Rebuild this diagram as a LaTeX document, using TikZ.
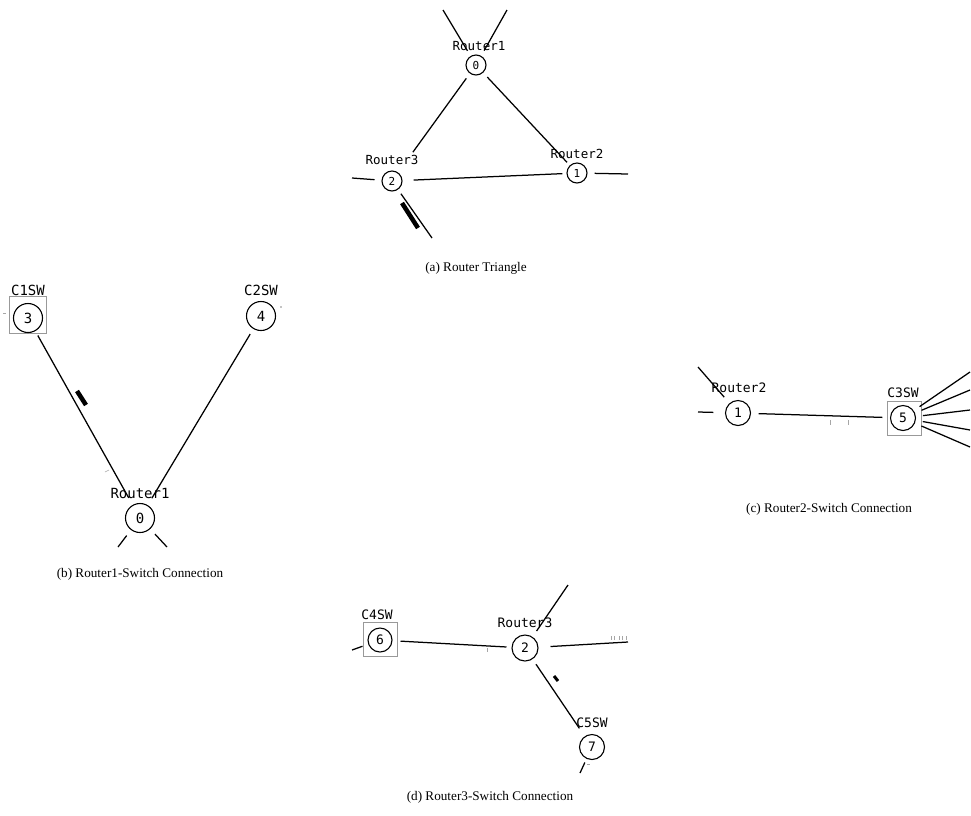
\documentclass[tikz,border=0pt]{standalone}
\usepackage{fontspec}
\setmainfont{Liberation Serif}
\newfontfamily\monof{DejaVu Sans Mono}
\begin{document}
\begin{tikzpicture}[x=1pt,y=-1pt,
  nd/.style={circle,draw,line width=1.1pt,inner sep=0pt,minimum size=#1,font=\monof\fontsize{13}{13}\selectfont},
  nd/.default=25pt,
  lbl/.style={inner sep=0pt,font=\monof\fontsize{13}{13}\selectfont},
  captext/.style={inner sep=0pt,font=\fontsize{13.2}{15}\selectfont},
  swbox/.style={draw=gray!80,line width=0.8pt,minimum width=#1,minimum height=#1,inner sep=0pt},
  ln/.style={line width=1.25pt},
  bar/.style={line width=4.5pt},
  tick/.style={line width=0.6pt,gray!70}]
\useasboundingbox (0,0) rectangle (971,815);

% ---------------- (a) Router Triangle ----------------
\node[nd=20pt,font=\monof\fontsize{11}{11}\selectfont] (a0) at (476,65) {0};
\node[nd=20pt,font=\monof\fontsize{11}{11}\selectfont] (a2) at (392,181) {2};
\node[nd=20pt,font=\monof\fontsize{11}{11}\selectfont] (a1) at (577,173) {1};
\node[lbl,font=\monof\fontsize{12.5}{12.5}\selectfont] (la0) at (479,46) {Router1};
\node[lbl,font=\monof\fontsize{12.5}{12.5}\selectfont] (la2) at (392,160) {Router3};
\node[lbl,font=\monof\fontsize{12.5}{12.5}\selectfont] (la1) at (577,154) {Router2};
\coordinate (at1) at (443,10);
\coordinate (at2) at (507,10);
\coordinate (al) at (352,178);
\coordinate (ar) at (628,174);
\coordinate (ab) at (432,238);
\draw[ln,shorten >=6pt] (at1) -- (a0);
\draw[ln,shorten >=6pt] (at2) -- (a0);
\draw[ln,shorten <=6pt,shorten >=25pt] (a0) -- (a2);
\draw[ln,shorten <=6pt,shorten >=4pt] (a0) -- (a1);
\draw[ln,shorten <=11pt,shorten >=4pt] (a2) -- (a1);
\draw[ln,shorten >=7pt] (al) -- (a2);
\draw[ln,shorten <=7pt] (a1) -- (ar);
\draw[ln,shorten <=5pt] (a2) -- (ab);
\draw[bar] (402,203) -- (418,228);
\node[captext] (capa) at (476,268) {(a) Router Triangle};

% ---------------- (b) Router1-Switch Connection ----------------
\node[swbox=37pt] (b3box) at (27.5,315) {};
\node[nd=29pt,font=\monof\fontsize{14}{14}\selectfont] (b3) at (28,318) {3};
\node[nd=29pt,font=\monof\fontsize{14}{14}\selectfont] (b4) at (261,316) {4};
\node[nd=29pt,font=\monof\fontsize{14}{14}\selectfont] (b0) at (140,518) {0};
\node[lbl,font=\monof\fontsize{14}{14}\selectfont] (lb3) at (28,290) {C1SW};
\node[lbl,font=\monof\fontsize{14}{14}\selectfont] (lb4) at (261,290) {C2SW};
\node[lbl,font=\monof\fontsize{14}{14}\selectfont] (lb0) at (140,493) {Router1};
\coordinate (bb1) at (118,547);
\coordinate (bb2) at (167,547);
\draw[ln,shorten <=5pt,shorten >=8pt] (b3) -- (b0);
\draw[ln,shorten <=6pt,shorten >=8pt] (b4) -- (b0);
\draw[ln,shorten <=7pt] (b0) -- (bb1);
\draw[ln,shorten <=7pt] (b0) -- (bb2);
\draw[bar] (77,391) -- (86,405);
\draw[tick] (105,472) -- (109,470);
\draw[tick] (3,313) -- (6,313);
\fill (281,307) circle (0.7pt);
\node[captext] (capb) at (140,574) {(b) Router1-Switch Connection};

% ---------------- (c) Router2-Switch Connection ----------------
\node[nd=25pt] (c1) at (738,413) {1};
\node[swbox=34pt] (c5box) at (904,418) {};
\node[nd=25pt] (c5) at (903,418) {5};
\node[lbl] (lc1) at (739,388) {Router2};
\node[lbl] (lc5) at (903,393) {C3SW};
\coordinate (ct) at (698,367);
\coordinate (cl) at (698,412);
\coordinate (cf1) at (970,372);
\coordinate (cf2) at (970,390);
\coordinate (cf3) at (970,410);
\coordinate (cf4) at (970,430);
\coordinate (cf5) at (970,447);
\draw[ln,shorten >=8pt] (ct) -- (c1);
\draw[ln,shorten >=11.5pt] (cl) -- (c1);
\draw[ln,shorten <=7.5pt,shorten >=7.5pt] (c1) -- (c5);
\foreach \k in {1,...,5} \draw[ln,shorten <=7pt] (c5) -- (cf\k);
\draw[tick] (830,420) -- (830,425);
\draw[tick] (848,420) -- (848,425);
\node[captext] (capc) at (829,509) {(c) Router2-Switch Connection};

% ---------------- (d) Router3-Switch Connection ----------------
\node[swbox=34pt] (d6box) at (380,639.5) {};
\node[nd=24pt] (d6) at (380,640) {6};
\node[nd=26pt] (d2) at (525,648) {2};
\node[nd=25pt] (d7) at (592,747) {7};
\node[lbl] (ld6) at (377,615) {C4SW};
\node[lbl] (ld2) at (525,623) {Router3};
\node[lbl] (ld7) at (592,723) {C5SW};
\coordinate (dl) at (352,650);
\coordinate (dt) at (568,585);
\coordinate (dr) at (628,642);
\coordinate (db) at (580,773);
\draw[ln,shorten >=6pt] (dl) -- (d6);
\draw[ln,shorten <=8pt,shorten >=5pt] (d6) -- (d2);
\draw[ln,shorten >=7pt] (dt) -- (d2);
\draw[ln,shorten <=12pt] (d2) -- (dr);
\draw[ln,shorten <=6pt,shorten >=9.5pt] (d2) -- (d7);
\draw[ln,shorten <=4pt] (d7) -- (db);
\draw[line width=3pt] (554,676) -- (558,681);
\draw[tick] (487,648) -- (487,652);
\foreach \x in {611,614,619,622,626} \draw[tick] (\x,636) -- (\x,640);
\draw[tick] (587,764) -- (590,764);
\node[captext] (capd) at (490,797) {(d) Router3-Switch Connection};
\end{tikzpicture}
\end{document}
